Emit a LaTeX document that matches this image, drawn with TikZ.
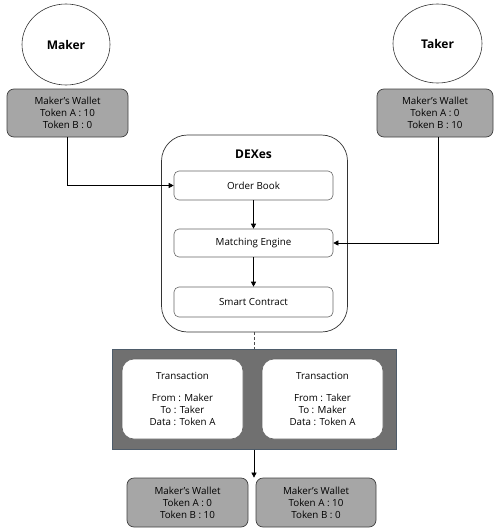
\documentclass[tikz,border=0pt]{standalone}
\usepackage{fontspec}
\setmainfont{Open Sans}
\usetikzlibrary{shapes.geometric,arrows.meta}
\definecolor{walletgray}{HTML}{A6A6A6}
\definecolor{panelgray}{HTML}{707070}
\definecolor{panelborder}{HTML}{4E5C6A}
\tikzset{
  actor/.style={ellipse,draw=black!80,line width=0.6pt,font=\fontsize{12}{14}\selectfont\bfseries,inner sep=0pt},
  wallet/.style={rectangle,rounded corners=7pt,draw=black!75,line width=0.7pt,fill=walletgray,align=center,font=\fontsize{9.8}{12}\selectfont,inner sep=0pt},
  stepbox/.style={rectangle,rounded corners=5pt,draw=black!60,line width=0.6pt,fill=white,minimum width=159pt,font=\fontsize{9.8}{12}\selectfont,inner sep=0pt},
  txbox/.style={rectangle,rounded corners=12pt,draw=black!60,line width=0.6pt,fill=white,minimum width=121pt,minimum height=80pt,align=center,font=\fontsize{9.8}{12}\selectfont,inner sep=0pt},
  conn/.style={draw=black,line width=0.6pt,-{Triangle[length=5pt,width=5pt]}},
}
\begin{document}
\begin{tikzpicture}[x=1pt,y=-1pt]
\useasboundingbox (0,0) rectangle (495,530);
% actors
\node[actor,minimum width=88pt,minimum height=81pt] (maker) at (66,44.5) {Maker};
\node[actor,minimum width=89pt,minimum height=79pt] (taker) at (437.5,43.5) {Taker};
% top wallets
\node[wallet,minimum width=121pt,minimum height=48pt] (mw) at (67.5,113) {Maker's Wallet\\Token A : 10\\Token B : 0};
\node[wallet,minimum width=116pt,minimum height=48pt] (tw) at (435,113) {Maker's Wallet\\Token A : 0\\Token B : 10};
% DEXes container
\node[rectangle,rounded corners=26pt,draw=black!80,line width=0.7pt,minimum width=186pt,minimum height=197pt,inner sep=0pt] (dex) at (254.5,233.5) {};
\node[font=\fontsize{12}{14}\selectfont\bfseries] (dexlabel) at (253.5,154) {DEXes};
\node[stepbox,minimum height=29pt] (ob) at (253.5,185.5) {Order Book};
\node[stepbox,minimum height=28pt] (me) at (253.5,243) {Matching Engine};
\node[stepbox,minimum height=30pt] (sc) at (253.5,302) {Smart Contract};
% transaction panel
\node[rectangle,draw=panelborder,line width=1pt,fill=panelgray,minimum width=284pt,minimum height=100pt,inner sep=0pt] (panel) at (254,399) {};
\node[txbox] (t1) at (182.5,399) {Transaction\\[10pt]From : Maker\\To : Taker\\Data : Token A};
\node[txbox] (t2) at (322.5,399) {Transaction\\[10pt]From : Taker\\To : Maker\\Data : Token A};
% bottom wallets
\node[wallet,minimum width=121pt,minimum height=49pt] (bw1) at (187.5,502.5) {Maker's Wallet\\Token A : 0\\Token B : 10};
\node[wallet,minimum width=120pt,minimum height=49pt] (bw2) at (316,502.5) {Maker's Wallet\\Token A : 10\\Token B : 0};
% connectors
\draw[conn] (mw.south) |- (ob.west);
\draw[conn] (tw.south -| 438,0) |- (me.east);
\draw[conn] (ob.south) -- (me.north);
\draw[conn] (me.south) -- (sc.north);
\draw[draw=black!70,line width=0.6pt,dash pattern=on 3pt off 2pt] (dex.south -| panel.north) -- (panel.north);
\draw[conn] (panel.south) -- (panel.south |- bw1.north);
\end{tikzpicture}
\end{document}
